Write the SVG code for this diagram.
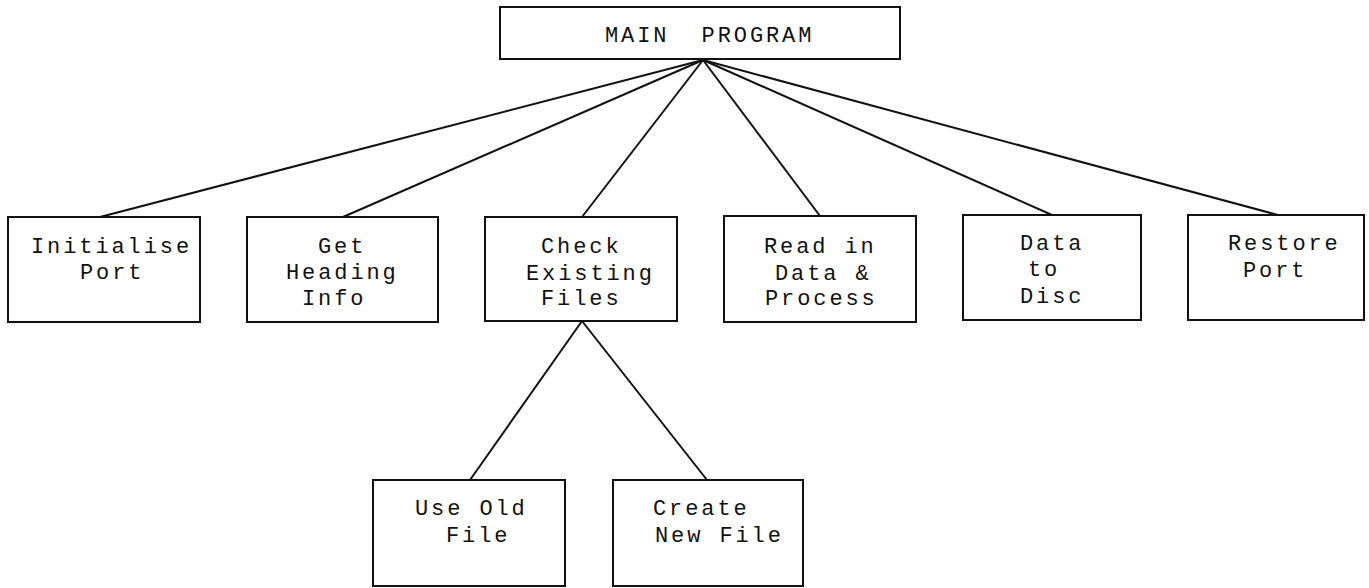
<svg xmlns="http://www.w3.org/2000/svg" width="1369" height="588" viewBox="0 0 1369 588">
<style>
.box{fill:#fff;stroke:#111;stroke-width:2}
.ln{stroke:#111;stroke-width:2;fill:none}
text{font-family:"Liberation Mono","DejaVu Sans Mono",monospace;font-size:22px;letter-spacing:2.9px;fill:#111;white-space:pre}
</style>
<rect width="1369" height="588" fill="#fff"/>
<g id="connectors">
<line class="ln" x1="703" y1="60" x2="100" y2="217"/>
<line class="ln" x1="703" y1="60" x2="343" y2="217"/>
<line class="ln" x1="703" y1="60" x2="582" y2="217"/>
<line class="ln" x1="703" y1="60" x2="820" y2="216"/>
<line class="ln" x1="703" y1="60" x2="1052" y2="215"/>
<line class="ln" x1="703" y1="60" x2="1278" y2="215"/>
<line class="ln" x1="582" y1="321" x2="470" y2="480"/>
<line class="ln" x1="582" y1="321" x2="707" y2="480"/>
</g>
<g id="main">
<rect class="box" x="500" y="7" width="400" height="52"/>
<text x="605" y="42">MAIN  PROGRAM</text>
</g>
<g id="initialise">
<rect class="box" x="8" y="217" width="192" height="105"/>
<text x="31" y="253">Initialise</text>
<text x="80" y="279">Port</text>
</g>
<g id="heading">
<rect class="box" x="247" y="217" width="191" height="105"/>
<text x="318" y="253">Get</text>
<text x="286" y="279">Heading</text>
<text x="302" y="305">Info</text>
</g>
<g id="check">
<rect class="box" x="485" y="217" width="192" height="104"/>
<text x="541" y="253">Check</text>
<text x="526" y="280">Existing</text>
<text x="541" y="305">Files</text>
</g>
<g id="read">
<rect class="box" x="724" y="216" width="192" height="106"/>
<text x="764" y="253">Read in</text>
<text x="775" y="280">Data &amp;</text>
<text x="765" y="305">Process</text>
</g>
<g id="disc">
<rect class="box" x="963" y="215" width="178" height="105"/>
<text x="1020" y="250">Data</text>
<text x="1028" y="276">to</text>
<text x="1020" y="303">Disc</text>
</g>
<g id="restore">
<rect class="box" x="1188" y="215" width="176" height="105"/>
<text x="1228" y="250">Restore</text>
<text x="1243" y="277">Port</text>
</g>
<g id="useold">
<rect class="box" x="373" y="480" width="192" height="106"/>
<text x="415" y="515">Use Old</text>
<text x="446" y="542">File</text>
</g>
<g id="createnew">
<rect class="box" x="613" y="480" width="190" height="106"/>
<text x="653" y="515">Create</text>
<text x="655" y="542">New File</text>
</g>
</svg>
